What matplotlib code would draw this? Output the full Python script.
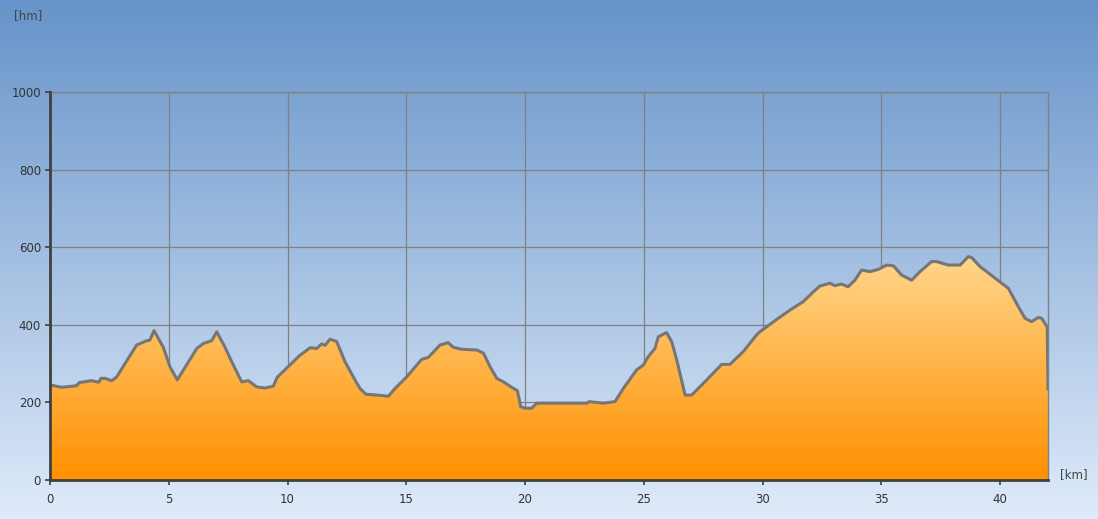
import numpy as np
import matplotlib
matplotlib.use("Agg")
import matplotlib.pyplot as plt
from matplotlib.colors import LinearSegmentedColormap

# elevation profile (km, m)
km = [0.0, 0.49, 1.12, 1.23, 1.75, 2.05, 2.15, 2.32, 2.6, 2.81, 3.65, 4.07, 4.2,
      4.38, 4.77, 5.05, 5.36, 6.18, 6.46, 6.81, 7.02, 7.37, 7.65, 8.07, 8.35,
      8.7, 9.05, 9.4, 9.57, 9.96, 10.53, 10.74, 10.95, 11.23, 11.44, 11.58,
      11.79, 12.07, 12.42, 12.84, 13.05, 13.3, 13.75, 14.25, 14.53, 15.02,
      15.65, 15.93, 16.42, 16.77, 16.98, 17.33, 17.97, 18.25, 18.53, 18.81,
      19.09, 19.44, 19.68, 19.82, 20.0, 20.28, 20.49, 21.5, 22.6, 22.7, 23.3,
      23.79, 24.14, 24.7, 24.98, 25.19, 25.47, 25.61, 25.96, 26.18, 26.39,
      26.74, 27.02, 27.23, 27.65, 28.28, 28.63, 29.19, 29.75, 29.89, 30.6,
      31.16, 31.72, 32.14, 32.42, 32.84, 33.05, 33.33, 33.6, 33.89, 34.17,
      34.53, 34.88, 35.23, 35.51, 35.86, 36.28, 36.63, 37.12, 37.33, 37.82,
      38.32, 38.67, 38.81, 39.16, 39.86, 40.35, 40.77, 41.05, 41.33, 41.61,
      41.75, 41.99, 42.02]
elev = [245, 239, 243, 251, 256, 252, 262, 262, 256, 266, 348, 359, 360,
        385, 342, 292, 258, 339, 352, 359, 382, 342, 305, 253, 256,
        240, 237, 242, 265, 288, 322, 331, 341, 339, 351, 347,
        363, 357, 305, 258, 236, 221, 219, 216, 236, 266,
        311, 316, 348, 354, 342, 337, 335, 327, 292, 262,
        253, 239, 230, 189, 185, 185, 198, 198, 198, 202, 198,
        202, 236, 284, 296, 318, 339, 369, 380, 356, 309,
        219, 219, 232, 258, 298, 298, 331, 374, 382, 414,
        438, 460, 485, 500, 507, 501, 505, 498, 515, 541,
        537, 543, 554, 552, 528, 515, 537, 563, 563, 554,
        554, 576, 573, 550, 517, 494, 447, 417, 408, 419,
        417, 394, 235]

y_ticks = [0, 200, 400, 600, 800, 1000]
x_ticks = [0, 5, 10, 15, 20, 25, 30, 35, 40]

fig = plt.figure(figsize=(10.98, 5.19), dpi=100)

# page background gradient
bg = fig.add_axes([0, 0, 1, 1])
bg.axis("off")
bg_cmap = LinearSegmentedColormap.from_list("bg", ["#dfebfa", "#6693c9"])
bg.imshow(np.linspace(0, 1, 256).reshape(-1, 1)[::-1], cmap=bg_cmap,
          aspect="auto", extent=[0, 1, 0, 1], zorder=0)
bg.set_xlim(0, 1)
bg.set_ylim(0, 1)

ax = fig.add_axes([50 / 1098, 1 - 480 / 519, 998 / 1098, 388 / 519])
ax.patch.set_alpha(0)

# orange fill with vertical gradient, clipped to the profile
fill_cmap = LinearSegmentedColormap.from_list("fill", ["#ff9000", "#ffd68c"])
poly = ax.fill_between(km, elev, 0, color="none", lw=0)
img = ax.imshow(np.linspace(0, 1, 256).reshape(-1, 1), cmap=fill_cmap,
                origin="lower", aspect="auto", extent=[0, 42.02, 0, 580],
                zorder=2)
clip = poly.get_paths()[0]
img.set_clip_path(clip, transform=ax.transData)
ax.plot(km, elev, color="#767676", lw=2.2, zorder=3, solid_joinstyle="round")

ax.set_xlim(0, 42.02)
ax.set_ylim(0, 1000)
ax.set_xticks(x_ticks)
ax.set_yticks(y_ticks)
ax.set_xticklabels([str(t) for t in x_ticks])
ax.set_yticklabels([str(t) for t in y_ticks])
ax.grid(True, color="#808080", lw=0.9, zorder=1)
ax.set_axisbelow(True)
ax.tick_params(length=3.5, width=1.2, color="#404040", labelcolor="#333333",
               labelsize=8.5)
ax.tick_params(axis="x", pad=6)
ax.tick_params(axis="y", pad=3)

for side in ("left", "bottom"):
    ax.spines[side].set_color("#404040")
    ax.spines[side].set_linewidth(2)
    ax.spines[side].set_zorder(4)
ax.spines["top"].set_color("#808080")
ax.spines["top"].set_linewidth(0.9)
ax.spines["right"].set_color("#808080")
ax.spines["right"].set_linewidth(1)

fig.text(14 / 1098, 1 - 16 / 519, "[hm]", fontsize=8.5, color="#444444",
         va="center", ha="left")
fig.text(1060 / 1098, 1 - 475 / 519, "[km]", fontsize=8.5, color="#444444",
         va="center", ha="left")

fig.savefig("out.png", dpi=100)
